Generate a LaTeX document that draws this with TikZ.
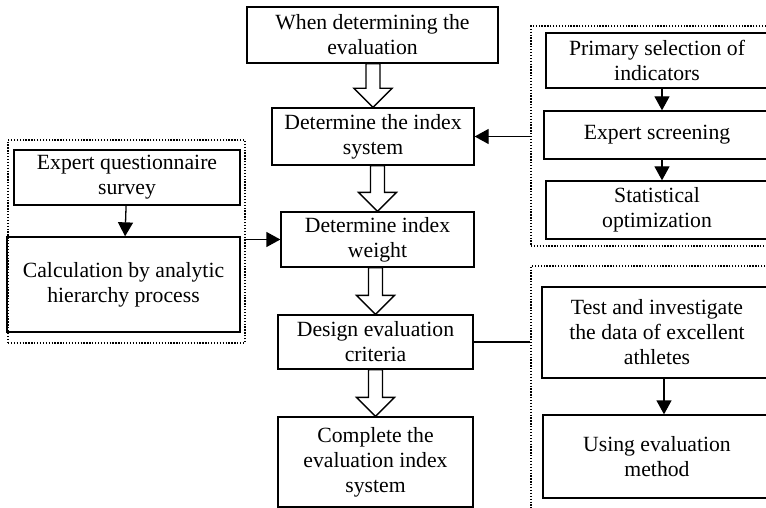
\documentclass[tikz,border=0pt]{standalone}
\usepackage{fontspec}
\setmainfont{Liberation Serif}
\usetikzlibrary{arrows.meta,calc,fit}

% open block arrow from one box down to the next
\newcommand{\fatarrow}[2]{%
	\draw [fat] ($(#1.south -| #2.north)+(-7,0)$) -- ($(#2.north)+(-7,-19)$)
		-- ($(#2.north)+(-19,-19)$) -- (#2.north) -- ($(#2.north)+(19,-19)$)
		-- ($(#2.north)+(7,-19)$) -- ($(#1.south -| #2.north)+(7,0)$) -- cycle;}

\begin{document}
\begin{tikzpicture}[x=1pt,y=-1pt]
		\tikzstyle{box}=[draw, line width=1.3pt, align=center, inner sep=0pt, font=\fontsize{21.7}{25}\selectfont]
		\tikzstyle{group}=[draw, line width=1.2pt, dash pattern=on 1.3pt off 1.6pt, inner sep=0pt]
		\tikzstyle{fat}=[draw, line width=1.3pt, fill=white, line join=miter]
		\tikzset{arrow/.style={line width=1.3pt, -{Triangle[length=14pt,width=15pt]}}}
		\tikzstyle{plain}=[line width=1.3pt]

		\clip (0,0) rectangle (766,508);

		% main column
		\node [box, minimum width=251, minimum height=56] (evaluation) at (372.5,35) {When determining the\\evaluation};
		\node [box, minimum width=202, minimum height=57] (index) at (373,136.5) {Determine the index\\system};
		\node [box, minimum width=193, minimum height=55] (weight) at (377.5,239.5) {Determine index\\weight};
		\node [box, minimum width=195, minimum height=54] (criteria) at (375.5,342) {Design evaluation\\criteria};
		\node [box, minimum width=195, minimum height=90] (complete) at (375.5,462) {Complete the\\evaluation index\\system};

		\fatarrow{evaluation}{index}
		\fatarrow{index}{weight}
		\fatarrow{weight}{criteria}
		\fatarrow{criteria}{complete}

		% left group
		\begin{scope}
			\node (leftgrp) [group, fit={(8,140) (245,343)}] {};
			\node [box, minimum width=226, minimum height=55] (survey) at (127,177.5) {Expert questionnaire\\survey};
			\node [box, minimum width=233, minimum height=95] (ahp) at (123.5,284.5) {Calculation by analytic\\hierarchy process};
		\end{scope}

		% right upper group
		\begin{scope}
			\node (topgrp) [group, fit={(531,26) (785,246)}] {};
			\node [box, minimum width=222, minimum height=55] (primary) at (657,60.5) {Primary selection of\\indicators};
			\node [box, minimum width=226, minimum height=48] (screening) at (657,135) {Expert screening};
			\node [box, minimum width=222, minimum height=58] (statistic) at (657,210) {Statistical\\optimization};
		\end{scope}

		% right lower group
		\begin{scope}
			\node (botgrp) [group, fit={(531,266) (785,520)}] {};
			\node [box, minimum width=230, minimum height=91] (athletes) at (657,332.5) {Test and investigate\\the data of excellent\\athletes};
			\node [box, minimum width=228, minimum height=83] (method) at (657,456.5) {Using evaluation\\method};
		\end{scope}

	\draw [arrow] (survey) -- (ahp);
	\draw [arrow] (weight.west -| leftgrp.east) -- (weight.west);

	\draw [arrow] (primary.south -| 662,0) -- (screening.north -| 662,0);
	\draw [arrow] (screening.south -| 662,0) -- (statistic.north -| 662,0);
	\draw [arrow] (index.east -| topgrp.west) -- (index.east);

	\draw [plain] (criteria.east) -- (criteria.east -| botgrp.west);
	\draw [arrow] (athletes.south -| 664,0) -- (method.north -| 664,0);

	\end{tikzpicture}
\end{document}
